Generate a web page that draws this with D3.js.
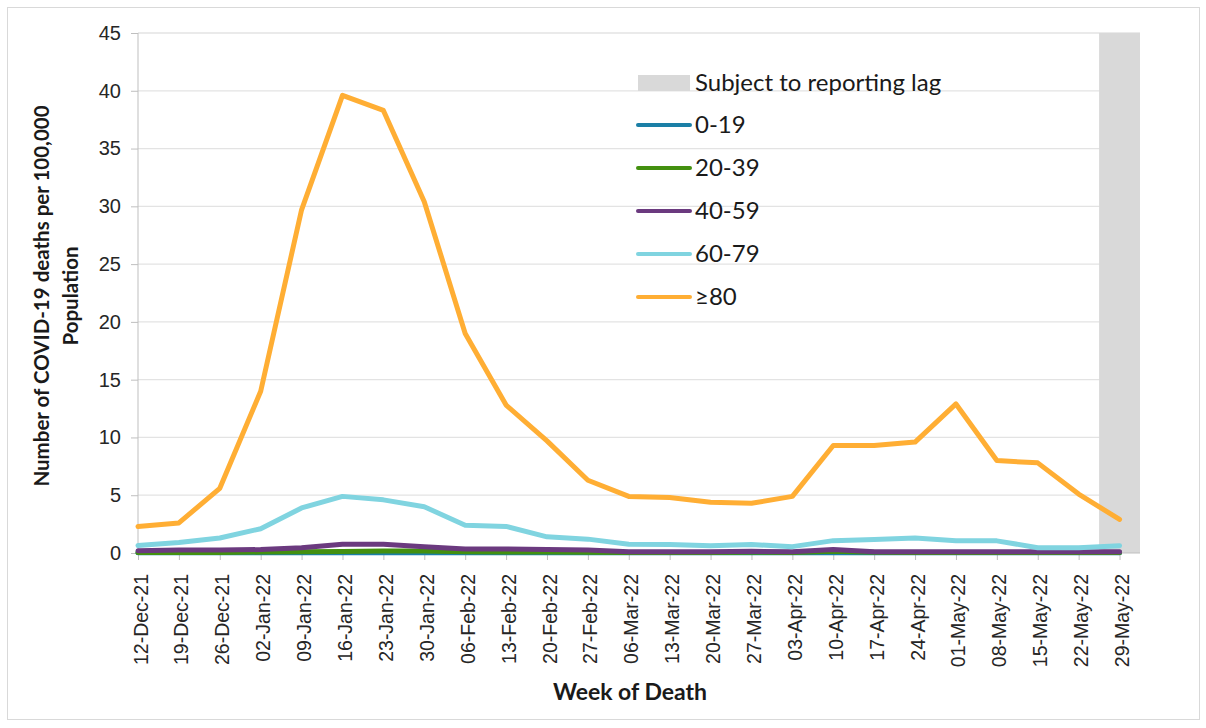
<!DOCTYPE html>
<html>
<head>
<meta charset="utf-8">
<script src="https://cdn.jsdelivr.net/npm/d3@7"></script>
<style>
  body { margin: 0; background: #fff; }
  .tick text { font-family: "Liberation Sans", Arial, sans-serif; fill: #262626; }
  .lbl { font-family: Lato, "Open Sans", sans-serif; fill: #1a1a1a; }
</style>
</head>
<body>
<svg width="1206" height="728"></svg>
<script>
var weeks = ["12-Dec-21","19-Dec-21","26-Dec-21","02-Jan-22","09-Jan-22","16-Jan-22","23-Jan-22",
  "30-Jan-22","06-Feb-22","13-Feb-22","20-Feb-22","27-Feb-22","06-Mar-22","13-Mar-22","20-Mar-22",
  "27-Mar-22","03-Apr-22","10-Apr-22","17-Apr-22","24-Apr-22","01-May-22","08-May-22","15-May-22",
  "22-May-22","29-May-22"];

var age0_19  = [0.02,0.02,0.02,0.02,0.02,0.02,0.02,0.02,0.02,0.02,0.02,0.02,0.02,0.02,0.02,0.02,0.02,0.02,0.02,0.02,0.02,0.02,0.02,0.02,0.02];
var age20_39 = [0.05,0.05,0.05,0.08,0.1,0.12,0.18,0.18,0.1,0.08,0.08,0.06,0.05,0.05,0.05,0.06,0.05,0.15,0.06,0.05,0.05,0.05,0.04,0.04,0.04];
var age40_59 = [0.2,0.25,0.25,0.3,0.45,0.75,0.75,0.55,0.35,0.35,0.3,0.25,0.1,0.1,0.1,0.15,0.1,0.3,0.1,0.1,0.1,0.1,0.1,0.1,0.1];
var age60_79 = [0.65,0.9,1.3,2.1,3.9,4.9,4.6,4.0,2.4,2.3,1.4,1.2,0.75,0.73,0.63,0.73,0.55,1.07,1.17,1.3,1.07,1.05,0.46,0.46,0.63];
var age80    = [2.3,2.6,5.6,14.0,29.7,39.6,38.3,30.4,19.0,12.8,9.7,6.3,4.9,4.8,4.4,4.3,4.9,9.3,9.3,9.6,12.9,8.0,7.8,5.1,2.9];

var seriesNames  = ["0-19","20-39","40-59","60-79","\u226580"];
var seriesColors = ["#1b7fa6","#43900f","#6b3a7f","#80d4e0","#ffae34"];
var seriesData   = [age0_19, age20_39, age40_59, age60_79, age80];
var lagWeeks     = ["29-May-22"];
var yTicks       = [0,5,10,15,20,25,30,35,40,45];

var svg = d3.select("svg");
var marginLeft = 138, marginTop = 33, innerW = 1002, innerH = 520;

// outer frame
svg.append("rect").attr("x", 7.5).attr("y", 7.5).attr("width", 1192).attr("height", 712)
  .attr("fill", "none").attr("stroke", "#d9d9d9");

var g = svg.append("g").attr("transform", "translate(" + marginLeft + "," + marginTop + ")");

var step = innerW / (weeks.length - 0.5);
var x = d3.scalePoint().domain(weeks).range([0, step * (weeks.length - 1)]);
var y = d3.scaleLinear().domain([0, 45]).range([innerH, 0]);

// gridlines
g.append("g").selectAll("line").data(yTicks.filter(function(d) { return d > 0; }))
  .enter().append("line")
  .attr("x1", 0).attr("x2", innerW)
  .attr("y1", function(d) { return y(d); }).attr("y2", function(d) { return y(d); })
  .attr("stroke", "#e3e3e3").attr("stroke-width", 1.3);

// reporting lag shading
g.selectAll("rect.lag").data(lagWeeks).enter().append("rect")
  .attr("class", "lag")
  .attr("x", function(d) { return x(d) - step / 2; })
  .attr("width", step).attr("y", 0).attr("height", innerH)
  .attr("fill", "#d9d9d9");

// y axis
var yAxis = g.append("g")
  .call(d3.axisLeft(y).tickValues(yTicks).tickSize(7).tickPadding(10));
yAxis.select(".domain").attr("stroke", "#bfbfbf").attr("d", "M0,0V" + innerH);
yAxis.selectAll(".tick line").attr("stroke", "#bfbfbf");
yAxis.selectAll(".tick text").style("font-size", "20px");

// x axis
var xAxis = g.append("g").attr("transform", "translate(0," + innerH + ")")
  .call(d3.axisBottom(x).tickSize(7).tickPadding(5));
xAxis.select(".domain").attr("stroke", "#bfbfbf").attr("d", "M0,0H" + innerW);
xAxis.selectAll(".tick line").attr("stroke", "#bfbfbf");
xAxis.selectAll(".tick text")
  .style("font-size", "19.5px")
  .attr("transform", "rotate(-90)")
  .attr("text-anchor", "end")
  .attr("x", -21).attr("y", 2).attr("dy", "0.36em");

// lines
var line = d3.line()
  .x(function(d, i) { return x(weeks[i]); })
  .y(function(d) { return y(d); });

g.append("g").selectAll("path").data(seriesData).enter().append("path")
  .attr("d", line)
  .attr("fill", "none")
  .attr("stroke", function(d, i) { return seriesColors[i]; })
  .attr("stroke-width", 5)
  .attr("stroke-linejoin", "round")
  .attr("stroke-linecap", "round");

// legend
var leg = svg.append("g").attr("transform", "translate(637,0)");
leg.append("rect").attr("x", 1).attr("y", 75).attr("width", 52).attr("height", 16).attr("fill", "#d9d9d9");
leg.append("text").attr("class", "lbl").attr("x", 58).attr("y", 83).attr("dy", "0.35em")
  .style("font-size", "24px").text("Subject to reporting lag");

var items = leg.selectAll("g.item").data(seriesNames).enter().append("g")
  .attr("class", "item")
  .attr("transform", function(d, i) { return "translate(0," + (125 + i * 43) + ")"; });
items.append("line").attr("x1", 1).attr("x2", 53).attr("y1", 0).attr("y2", 0)
  .attr("stroke", function(d, i) { return seriesColors[i]; })
  .attr("stroke-width", 4).attr("stroke-linecap", "round");
items.append("text").attr("class", "lbl").attr("x", 58).attr("dy", "0.35em")
  .style("font-size", "24px").text(function(d) { return d; });

// axis titles
svg.append("text").attr("class", "lbl")
  .attr("x", 630).attr("y", 700)
  .attr("text-anchor", "middle").style("font-size", "23px").style("font-weight", "bold")
  .text("Week of Death");

var yt = svg.append("text").attr("class", "lbl")
  .attr("transform", "translate(49,296) rotate(-90)")
  .attr("text-anchor", "middle").style("font-size", "20.5px").style("font-weight", "bold");
yt.append("tspan").attr("x", 0).attr("y", 0).text("Number of COVID-19 deaths per 100,000");
yt.append("tspan").attr("x", 0).attr("y", 29).text("Population");
</script>
</body>
</html>
